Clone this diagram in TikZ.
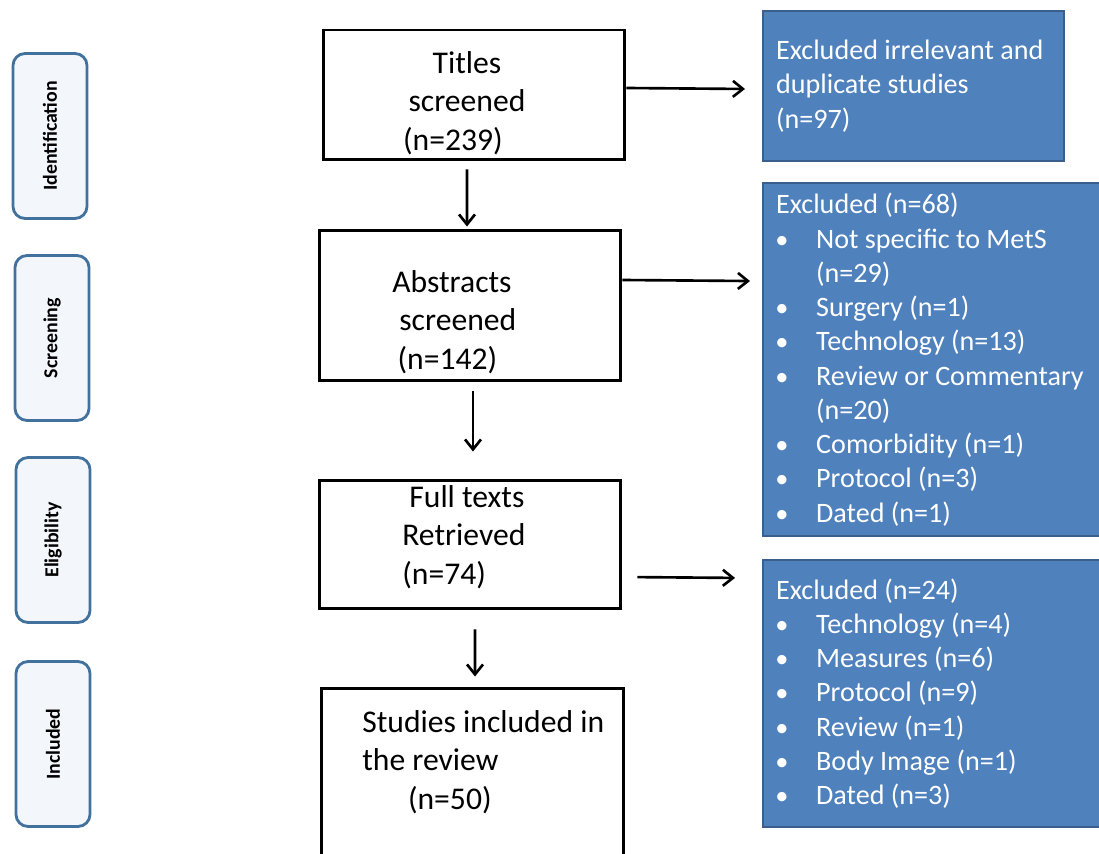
\documentclass[tikz,border=0pt]{standalone}
\usepackage{fontspec}
\setmainfont{Carlito}
\usetikzlibrary{arrows.meta}
\definecolor{stageline}{HTML}{41719C}
\definecolor{stagefill}{HTML}{F3F6FA}
\definecolor{exclfill}{HTML}{4F81BD}
\definecolor{exclline}{HTML}{3A5F8C}
\newcommand{\blt}{\makebox[22.8pt][l]{\hspace{-0.5pt}{\fontsize{15}{15}\selectfont•}}}
\newcommand{\cnt}{\hspace*{22.8pt}}

\begin{document}
\begin{tikzpicture}[x=0.02cm, y=-0.02cm,
        stage/.style={draw=stageline, fill=stagefill, line width=1.6pt, rounded corners=0.24cm, rotate=90, minimum width=3.3cm, minimum height=1.48cm, font=\fontsize{11.3}{13}\selectfont\bfseries},
        mainbox/.style={draw, line width=1.7pt, minimum width=6.04cm, inner sep=0pt},
        maintext/.style={inner sep=0pt, font=\fontsize{18}{21.9}\selectfont},
        exclbox/.style={draw=exclline, fill=exclfill, line width=1.3pt, anchor=north west, text=white, align=flush left, inner xsep=0.26cm, font=\fontsize{16}{19.5}\selectfont},
        arr/.style={-{Straight Barb[length=0.2cm, width=0.32cm]}, line width=1.5pt}]
            \useasboundingbox (0,0) rectangle (1099,854);
            \clip (0,0) rectangle (1099,854);
            % stages
            \node[stage] (ident) at (50,136) {Identification};
            \node[stage] (screen) at (52,338) {Screening};
            \node[stage] (elig) at (53,540) {Eligibility};
            \node[stage] (incl) at (53,744) {Included};
            \node[mainbox, minimum height=2.6cm] (titles) at (474,95) {};
            \node[mainbox, minimum height=3.02cm] (abstracts) at (470,305.5) {};
            \node[mainbox, minimum height=2.58cm] (fulltext) at (470,544.5) {};
            \node[mainbox, minimum height=4.24cm] (studies) at (472.5,794) {};
            \node[maintext, align=center] (titlestxt) at (467,103) {Titles\\screened\\(n=239)\hspace*{16pt}};
            \node[maintext, align=left, anchor=west] (abstractstxt) at (392,322) {Abstracts\\\hspace*{4pt}screened\\\hspace*{3pt}(n=142)};
            \node[maintext, align=left, anchor=west] (fulltexttxt) at (402,537) {\hspace*{4pt}Full texts\\Retrieved\\(n=74)};
            \node[maintext, align=left, anchor=west] (studiestxt) at (362,762) {Studies included in\\the review\\\hspace*{26pt}(n=50)};
            % excluded
            \node[exclbox, text width=5.5cm, minimum height=3cm] (excl1) at (762,10) {Excluded irrelevant and\\duplicate studies\\(n=97)};
            \node[exclbox, text width=6.8cm, minimum height=7.06cm] (excl2) at (762,182) {Excluded (n=68)\\\blt Not specific to MetS\\\cnt(n=29)\\\blt Surgery (n=1)\\\blt Technology (n=13)\\\blt Review or Commentary\\\cnt(n=20)\\\blt Comorbidity (n=1)\\\blt Protocol (n=3)\\\blt Dated (n=1)};
            \node[exclbox, text width=6.8cm, minimum height=5.34cm] (excl3) at (762,559) {Excluded (n=24)\\\blt Technology (n=4)\\\blt Measures (n=6)\\\blt Protocol (n=9)\\\blt Review (n=1)\\\blt Body Image (n=1)\\\blt Dated (n=3)};
            \draw[arr, shorten <=0.16cm, shorten >=0.04cm] ([xshift=-0.14cm]titles.south) -- ([xshift=-0.06cm]abstracts.north);
            \draw[arr, shorten <=0.18cm, shorten >=0.54cm] ([xshift=0.06cm]abstracts.south) -- ([xshift=0.06cm]fulltext.north);
            \draw[arr, shorten <=0.38cm, shorten >=0.2cm] ([xshift=0.1cm]fulltext.south) -- ([xshift=0.05cm]studies.north);
            \draw[arr, shorten >=0.34cm] ([yshift=0.14cm]titles.east) -- ([yshift=-0.06cm]excl1.west);
            \draw[arr, shorten >=0.24cm] ([yshift=0.51cm]abstracts.east) -- ([yshift=1.57cm]excl2.west);
            \draw[arr, shorten <=0.3cm, shorten >=0.54cm] ([yshift=-0.65cm]fulltext.east) -- ([yshift=2.31cm]excl3.west);
        \end{tikzpicture}
\end{document}
